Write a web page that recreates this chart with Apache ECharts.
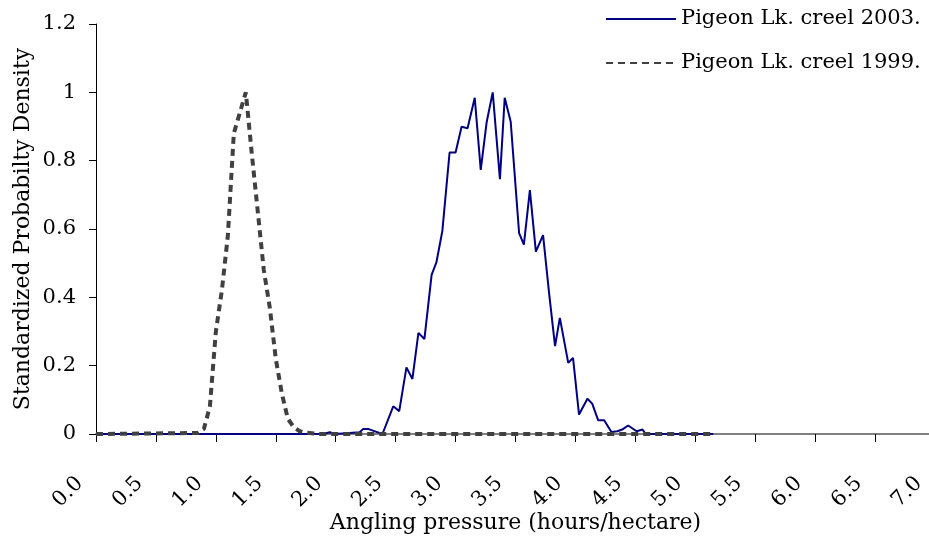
<!DOCTYPE html>
<html>
<head>
<meta charset="utf-8">
<script src="https://cdn.jsdelivr.net/npm/echarts@6/dist/echarts.min.js"></script>
<style>
  html, body { margin: 0; padding: 0; background: #fff; }
  #chart { width: 929px; height: 539px; }
</style>
</head>
<body>
<div id="chart"></div>
<script>
// series names as in the legend
var names = ['Pigeon Lk. creel 2003.', 'Pigeon Lk. creel 1999.'];

// 2003 creel (x = hours/hectare)
var x2003 = [0, 1.90, 1.95, 2.00, 2.20, 2.23, 2.27, 2.31, 2.39, 2.48, 2.53, 2.59, 2.64, 2.69, 2.74,
  2.80, 2.84, 2.89, 2.95, 3.00, 3.05, 3.10, 3.16, 3.21, 3.26, 3.31, 3.37, 3.41, 3.46,
  3.53, 3.57, 3.62, 3.67, 3.73, 3.78, 3.83, 3.87, 3.94, 3.98, 4.03, 4.10, 4.14, 4.19,
  4.24, 4.30, 4.35, 4.39, 4.44, 4.51, 4.56, 4.58, 4.62, 5.15];
var y2003 = [0, 0, 0.005, 0, 0.005, 0.015, 0.015, 0.01, 0, 0.081, 0.067, 0.195, 0.161, 0.296, 0.278,
  0.466, 0.502, 0.595, 0.824, 0.824, 0.899, 0.895, 0.984, 0.773, 0.914, 1.0, 0.746, 0.984, 0.914,
  0.588, 0.554, 0.714, 0.534, 0.582, 0.413, 0.257, 0.34, 0.208, 0.223, 0.057, 0.103, 0.089, 0.04,
  0.04, 0.006, 0.008, 0.013, 0.025, 0.008, 0.013, 0.003, 0, 0];

// 1999 creel
var x1999 = [0, 0.85, 0.90, 0.95, 1.00, 1.05, 1.10, 1.15, 1.20, 1.25, 1.30, 1.35, 1.40, 1.45,
  1.50, 1.55, 1.60, 1.65, 1.70, 1.75, 1.80, 1.85, 5.15];
var y1999 = [0, 0.003, 0.015, 0.08, 0.30, 0.42, 0.58, 0.88, 0.94, 1.00, 0.82, 0.65, 0.48, 0.37,
  0.22, 0.12, 0.045, 0.02, 0.008, 0.004, 0.002, 0, 0];

function pairs(xs, ys) {
  var out = [];
  for (var i = 0; i < xs.length; i++) {
    out.push([xs[i], ys[i]]);
  }
  return out;
}

var font = 'DejaVu Serif';
var myChart = echarts.init(document.getElementById('chart'));

var option = {
  animation: false,
  backgroundColor: '#fff',
  textStyle: { fontFamily: font, color: '#000' },
  // axis runs past the right edge, 7.0 sits just outside the picture
  grid: { left: 96, right: -6, top: 24, bottom: 105, containLabel: false, outerBoundsMode: 'none' },
  legend: {
    data: names,
    orient: 'vertical',
    left: 600,
    top: 2,
    itemWidth: 70,
    itemHeight: 14,
    itemGap: 20,
    // hide the circle echarts puts on line legend icons
    itemStyle: { color: 'rgba(0,0,0,0)', borderWidth: 0, opacity: 0 },
    textStyle: { fontFamily: font, fontSize: 21, color: '#000', lineHeight: 24 }
  },
  xAxis: {
    type: 'value',
    min: 0,
    max: 7,
    interval: 0.5,
    name: 'Angling pressure (hours/hectare)',
    nameLocation: 'middle',
    nameGap: 78,
    nameMoveOverlap: false,
    nameTextStyle: { fontFamily: font, fontSize: 22, color: '#000' },
    axisLine: { onZero: false, lineStyle: { color: '#808080', width: 2 } },
    axisTick: { length: 8, lineStyle: { color: '#000', width: 1 } },
    axisLabel: {
      rotate: 45,
      margin: 30,
      padding: [0, 23, 0, 0],
      fontFamily: font,
      fontSize: 21,
      color: '#000',
      formatter: function (v) { return v.toFixed(1); }
    },
    splitLine: { show: false }
  },
  yAxis: {
    type: 'value',
    min: 0,
    max: 1.2,
    interval: 0.2,
    name: 'Standardized Probabilty Density',
    nameLocation: 'middle',
    nameGap: 62,
    nameMoveOverlap: false,
    nameTextStyle: { fontFamily: font, fontSize: 22, color: '#000' },
    axisLine: { show: true, lineStyle: { color: '#000', width: 1 } },
    axisTick: { show: true, length: 7, lineStyle: { color: '#000' } },
    axisLabel: { margin: 20, fontFamily: font, fontSize: 21, color: '#000' },
    splitLine: { show: false }
  },
  series: [
    {
      name: names[0],
      type: 'line',
      data: pairs(x2003, y2003),
      symbol: 'none',
      z: 2,
      lineStyle: { color: '#000080', width: 2 },
      itemStyle: { color: '#000080' }
    },
    {
      name: names[1],
      type: 'line',
      data: pairs(x1999, y1999),
      symbol: 'none',
      z: 3,
      lineStyle: { color: '#404040', width: 4, type: [7, 5] },
      itemStyle: { color: '#404040' }
    }
  ]
};

myChart.setOption(option);
</script>
</body>
</html>
